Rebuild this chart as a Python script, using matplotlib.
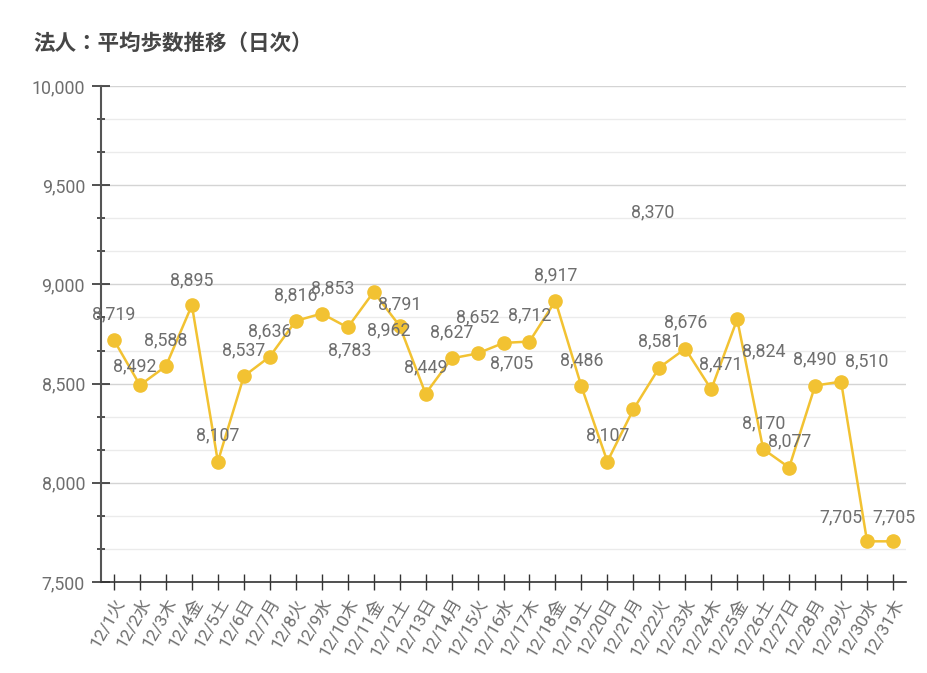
import matplotlib
matplotlib.use("Agg")
import matplotlib.pyplot as plt
from matplotlib.ticker import MultipleLocator, FuncFormatter
import numpy as np

categories = ["12/1火", "12/2水", "12/3木", "12/4金", "12/5土", "12/6日", "12/7月",
              "12/8火", "12/9水", "12/10木", "12/11金", "12/12土", "12/13日", "12/14月",
              "12/15火", "12/16水", "12/17木", "12/18金", "12/19土", "12/20日", "12/21月",
              "12/22火", "12/23水", "12/24木", "12/25金", "12/26土", "12/27日", "12/28月",
              "12/29火", "12/30水", "12/31木"]
values = [8719, 8492, 8588, 8895, 8107, 8537, 8636, 8816, 8853, 8783, 8962, 8791,
          8449, 8627, 8652, 8705, 8712, 8917, 8486, 8107, 8370, 8581, 8676, 8471,
          8824, 8170, 8077, 8490, 8510, 7705, 7705]
title = "法人：平均歩数推移（日次）"

# label offsets in pixels (dx, dy) relative to each point (layout only)
label_offsets = [(0, 26), (-5, 19), (0, 26), (0, 25), (0, 26), (0, 26), (0, 25),
                 (0, 26), (11, 25), (2, -23), (15, -38), (0, 22), (0, 26), (0, 26),
                 (0, 36), (8, -20), (0, 26), (0, 26), (0, 26), (0, 26), (19, 197),
                 (0, 26), (0, 26), (9, 25), (27, -32), (1, 26), (0, 26), (0, 26),
                 (26, 20), (-26, 24), (1, 24)]

W, H = 928, 673
fig = plt.figure(figsize=(W / 100, H / 100), dpi=100)
ax = fig.add_axes([101 / W, 1 - 582 / H, (906 - 101) / W, (582 - 86) / H])

fam = ["Roboto", "Noto Sans CJK JP", "DejaVu Sans"]
txt_col = "#6e6e6e"
line_col = "#F2C232"

x = np.arange(len(categories))
ax.plot(x, values, color=line_col, lw=1.8, marker="o", ms=9.5, mfc=line_col,
        mec=line_col, zorder=3, clip_on=False)

for xi, v, (dx, dy) in zip(x, values, label_offsets):
    ax.annotate(f"{v:,}", (xi, v), xytext=(dx * 0.72, dy * 0.72), textcoords="offset points",
                ha="center", va="center", fontsize=12.8, color=txt_col, family=fam, zorder=4)

ax.set_xlim(-0.5, len(categories) - 0.5)
ax.set_ylim(7500, 10000)
ax.yaxis.set_major_locator(MultipleLocator(500))
ax.yaxis.set_minor_locator(MultipleLocator(500 / 3))
ax.yaxis.set_major_formatter(FuncFormatter(lambda v, p: f"{int(v):,}"))
ax.set_xticks(x)
ax.set_xticklabels(categories, rotation=60, ha="right", va="top", rotation_mode="anchor",
                   family=fam, fontsize=12.5, color=txt_col)
for lab in ax.get_yticklabels():
    lab.set_family(fam)
ax.tick_params(axis="y", which="major", direction="inout", length=13, width=1.2,
               color="#333333", labelsize=12.8, labelcolor=txt_col, pad=5)
ax.tick_params(axis="y", which="minor", direction="inout", length=6, width=1.2, color="#333333")
ax.tick_params(axis="x", which="major", direction="inout", length=12, width=1.0,
               color="#333333", pad=4)

ax.grid(True, which="major", axis="y", color="#d4d4d4", lw=1)
ax.grid(True, which="minor", axis="y", color="#ebebeb", lw=1)
ax.set_axisbelow(True)
for s in ["top", "right"]:
    ax.spines[s].set_visible(False)
ax.spines["left"].set_color("#555555")
ax.spines["left"].set_linewidth(1.5)
ax.spines["bottom"].set_color("#333333")
ax.spines["bottom"].set_linewidth(1.2)

fig.text(33 / W, 1 - 43 / H, title, ha="left", va="center", fontsize=15.5,
         fontweight="bold", color="#464646", family=["Noto Sans CJK JP", "DejaVu Sans"])

fig.savefig("out.png", dpi=100, facecolor="white")
